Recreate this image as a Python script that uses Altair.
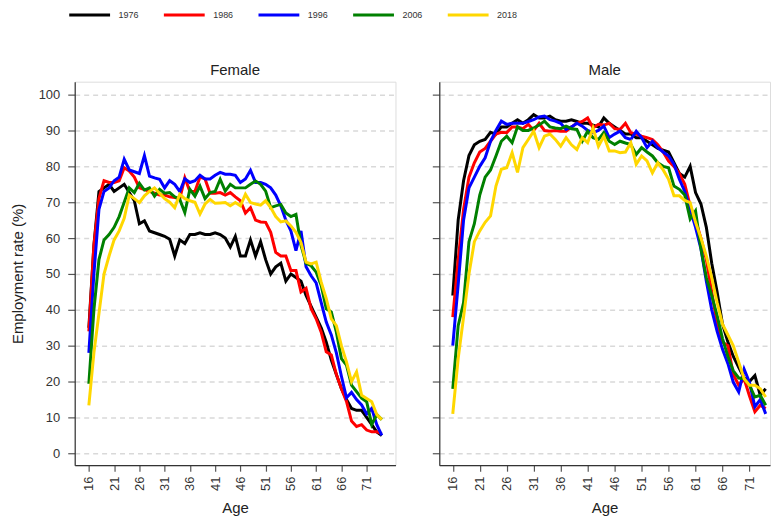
import altair as alt
import pandas as pd

ages = list(range(16, 75))
years = ["1976", "1986", "1996", "2006", "2018"]
colors = ["#000000", "#FF0000", "#0000FF", "#008000", "#FFD700"]

female_1976 = [35, 58, 73, 74, 75, 73, 74, 75, 72.7, 70.4, 64, 64.8, 62, 61.5, 61, 60.5, 59.7, 55, 59.5, 58.5,
               61, 61, 61.5, 61, 61, 61.5, 61, 60, 57.5, 60.5, 55, 55, 59.5, 55, 59, 54, 50, 52, 53, 48,
               50, 49, 48, 44, 41, 38, 35, 31, 26, 22, 18, 15, 12.5, 12, 12, 10, 8, 6, 5]
female_1986 = [34, 58, 71, 76, 75.5, 75.5, 76, 79.6, 78.7, 77, 74, 73.5, 73, 72.5, 72, 72, 71.5, 71.3, 71, 76.8,
               73, 73, 77, 76.5, 72.5, 72.5, 72.7, 72, 72.7, 71.5, 70.4, 67, 68.5, 65, 64.5, 64.4, 61.6, 56, 55, 55,
               51, 51, 45, 46, 40.3, 37.5, 33.8, 28.3, 27.4, 22, 18, 14.5, 9, 7.5, 8, 6.5, 6, 6, 5.5]
female_1996 = [28, 50, 68, 73, 74, 76, 77, 82, 79, 78.5, 78, 83, 77.3, 76.8, 76.4, 74, 76, 75, 73, 76.5,
               75.5, 76, 77.5, 76.5, 76.5, 77.5, 78.3, 77.8, 77.8, 77.5, 75.5, 76.5, 78.9, 75.5, 75.5, 75, 74, 72, 69, 65,
               62, 56.5, 62, 52, 49.5, 47.5, 42, 36.6, 33, 28, 21.5, 15.5, 17, 15, 13.5, 11, 12.5, 8, 5]
female_2006 = [19.4, 40, 54, 59.5, 61, 63, 66, 70, 74, 72.7, 75.3, 73.4, 74, 71.7, 73.6, 72.5, 72.7, 71.5, 70.8, 67.1,
               73.6, 71.7, 74.5, 71, 72.7, 73, 76.4, 73.1, 75, 74, 74, 74, 75, 75.9, 75, 73.1, 68.5, 69, 69.4, 67,
               66, 66.6, 58, 53, 52.3, 50.5, 46.8, 40.3, 39.4, 33.8, 26.4, 24.6, 19, 17.2, 15.4, 14.4, 8, 10.8, 9.4]
female_2018 = [13.4, 28, 39, 50, 55, 59.5, 62, 65.5, 72, 71, 69.9, 71.8, 73, 74, 72.5, 71, 70, 68.5, 72.2, 71,
               70.4, 70, 66.7, 69.5, 70.8, 69.7, 69.8, 69.9, 69, 69.9, 69, 72.2, 69.9, 69.5, 69.2, 70.4, 68.5, 66, 64.5, 64.8,
               63.4, 61.6, 58.8, 53.3, 52.8, 53.3, 47.7, 43.1, 37.5, 35.6, 30, 25.5, 20, 22.7, 16.2, 15.3, 14.4, 10.8, 9.4]

male_1976 = [44, 65, 76, 83, 86, 87, 87.5, 89.5, 89, 91, 91, 92, 93, 92, 93, 94.4, 93.5, 93.5, 94, 93,
             92.6, 92.6, 93, 92.5, 92, 92, 91.5, 91, 93.5, 92, 91, 90, 89, 89, 88, 88, 87, 86, 85, 84.5,
             84, 81, 78, 77, 80, 72.7, 69.5, 63, 53, 45, 36, 31, 27, 24, 21, 20, 21.7, 16.2, 18]
male_1986 = [38, 54, 68, 77, 81, 84, 85, 87, 89, 89.5, 89.4, 91, 91, 90.5, 91.7, 90, 92, 90, 89.8, 90,
             89.8, 89.8, 91, 92, 92.5, 93.5, 90.7, 91.7, 91.5, 92, 90.5, 90.3, 92, 89.4, 89, 88.4, 88, 87.5, 86, 84,
             81.5, 80, 78, 75, 69, 65, 60, 54, 45, 36, 31, 30, 22, 19, 20.8, 16, 11.6, 13.4, 12.5]
male_1996 = [30, 47, 65, 74, 77, 80, 82.4, 87, 90, 92.6, 91.7, 92, 92, 92, 92.5, 93, 93.8, 94, 93, 92.6,
             92, 90.3, 91, 92, 91.2, 90, 89.4, 90, 91.2, 88, 89, 89.8, 88, 87.5, 89.8, 88, 85.2, 87, 85.2, 84,
             82.9, 80.6, 76.4, 73, 68, 63, 57, 48, 40, 34, 29, 25, 19.8, 17.1, 23.5, 19.8, 13, 15, 11]
male_2006 = [18, 35.6, 42, 59, 64, 72, 77, 79, 82.9, 87, 88.4, 86.6, 91, 90, 90, 90.7, 91.5, 92.6, 91, 90.7,
             90.5, 91.2, 90.5, 90.3, 87, 89.8, 88, 87.5, 89.4, 87, 86.1, 87, 86.5, 86.1, 83.3, 85.2, 84, 82.9, 81, 80,
             79.6, 74.5, 73.6, 72, 65.3, 67.6, 57, 49, 44, 38.4, 32, 27, 23, 21, 20.8, 19, 15.7, 16.2, 13.4]
male_2018 = [11, 26.4, 38, 50, 59, 62, 64.4, 66.2, 74.5, 79.2, 79.6, 83.8, 78.3, 85.2, 87.5, 89.8, 85.2, 88.4, 89, 87.5,
             85.6, 88, 86, 84.7, 88, 86.6, 90.7, 85.6, 88.4, 84.3, 84.3, 83.8, 84, 86.6, 80.6, 82.9, 81.5, 78.2, 81, 79,
             76.4, 71.8, 71.8, 70.5, 69.9, 64.4, 60, 55, 49, 42, 36, 33, 30, 25.4, 20.8, 19, 19, 18, 15.7]

x_ticks = list(range(16, 72, 5))
y_ticks = list(range(0, 101, 10))

series = {
    ("Female", "1976"): female_1976, ("Female", "1986"): female_1986, ("Female", "1996"): female_1996,
    ("Female", "2006"): female_2006, ("Female", "2018"): female_2018,
    ("Male", "1976"): male_1976, ("Male", "1986"): male_1986, ("Male", "1996"): male_1996,
    ("Male", "2006"): male_2006, ("Male", "2018"): male_2018,
}
rows = []
for (sex, yr), vals in series.items():
    for a, v in zip(ages, vals):
        rows.append({"sex": sex, "year": yr, "age": a, "rate": v})
df = pd.DataFrame(rows)

FONT = "Liberation Sans"

color = alt.Color(
    "year:N",
    scale=alt.Scale(domain=years, range=colors),
    legend=alt.Legend(
        orient="none", legendX=3, legendY=-79, direction="horizontal", title=None,
        symbolType="M-2,0H2", symbolSize=420, symbolStrokeWidth=3,
        labelFontSize=9, labelFont="Liberation Sans Narrow, Liberation Sans", labelColor="#333",
        labelOffset=17, columnPadding=18,
    ),
)


def panel(sex, xdomain, width, first):
    yaxis = alt.Axis(
        values=y_ticks, grid=True, gridDash=[5, 4], gridColor="#d9d9d9", gridWidth=1.5,
        domainColor="#333", domainWidth=1.2, tickColor="#555", tickSize=7, tickWidth=1.2,
        labels=first, labelFontSize=13, labelFont=FONT, labelColor="#333", labelPadding=8,
        title="Employment rate (%)" if first else None,
        titleFontSize=15, titleFont=FONT, titleFontWeight="normal", titleColor="#222", titlePadding=13,
    )
    xaxis = alt.Axis(
        values=x_ticks, grid=False, labelAngle=270, labelFontSize=13, labelFont=FONT, labelColor="#333",
        labelPadding=5, domainColor="#333", domainWidth=1.2, tickColor="#555", tickSize=6, tickWidth=1.2,
        title="Age", titleFontSize=15, titleFont=FONT, titleFontWeight="normal", titleColor="#222", titlePadding=10,
    )
    return (
        alt.Chart(df)
        .transform_filter(alt.datum.sex == sex)
        .mark_line(strokeWidth=3, clip=True)
        .encode(
            x=alt.X("age:Q", scale=alt.Scale(domain=xdomain, nice=False, zero=False), axis=xaxis),
            y=alt.Y("rate:Q", scale=alt.Scale(domain=[-3.3, 103.6], nice=False, zero=False), axis=yaxis),
            color=color,
            order="age:Q",
        )
        .properties(
            width=width, height=385,
            title=alt.TitleParams(sex, fontSize=15, font=FONT, fontWeight="normal", color="#222", offset=4),
        )
    )


female = panel("Female", [13.2, 76.7], 322, True)
male = panel("Male", [13.5, 74.8], 332, False)

chart = (
    alt.hconcat(female, male, spacing=34)
    .resolve_scale(x="independent")
    .properties(padding={"left": 9, "top": 2, "right": 0, "bottom": 0})
    .configure_view(stroke=None)
    .configure(background="white")
)

chart.save("out.html", embed_options={"renderer": "svg", "actions": False})
